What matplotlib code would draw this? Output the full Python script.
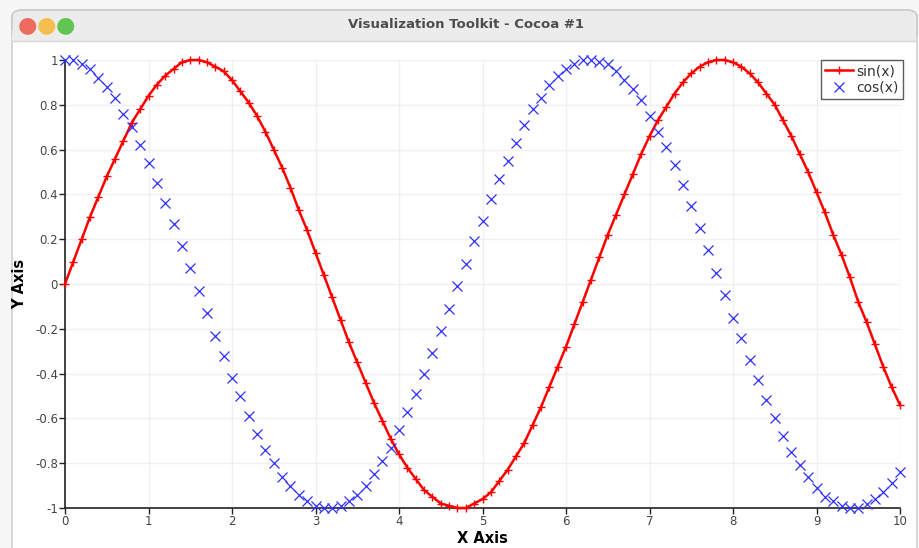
import numpy as np
import matplotlib
matplotlib.use("Agg")
import matplotlib.pyplot as plt
from matplotlib.patches import FancyBboxPatch, Rectangle

# sample grid 0..10 step 0.1
x = np.linspace(0, 10, 101)

sin_y = [0.00, 0.10, 0.20, 0.30, 0.39, 0.48, 0.56, 0.64, 0.72, 0.78,
         0.84, 0.89, 0.93, 0.96, 0.99, 1.00, 1.00, 0.99, 0.97, 0.95,
         0.91, 0.86, 0.81, 0.75, 0.68, 0.60, 0.52, 0.43, 0.33, 0.24,
         0.14, 0.04, -0.06, -0.16, -0.26, -0.35, -0.44, -0.53, -0.61, -0.69,
         -0.76, -0.82, -0.87, -0.92, -0.95, -0.98, -0.99, -1.00, -1.00, -0.98,
         -0.96, -0.93, -0.88, -0.83, -0.77, -0.71, -0.63, -0.55, -0.46, -0.37,
         -0.28, -0.18, -0.08, 0.02, 0.12, 0.22, 0.31, 0.40, 0.49, 0.58,
         0.66, 0.73, 0.79, 0.85, 0.90, 0.94, 0.97, 0.99, 1.00, 1.00,
         0.99, 0.97, 0.94, 0.90, 0.85, 0.80, 0.73, 0.66, 0.58, 0.50,
         0.41, 0.32, 0.22, 0.13, 0.03, -0.08, -0.17, -0.27, -0.37, -0.46,
         -0.54]

cos_y = [1.00, 1.00, 0.98, 0.96, 0.92, 0.88, 0.83, 0.76, 0.70, 0.62,
         0.54, 0.45, 0.36, 0.27, 0.17, 0.07, -0.03, -0.13, -0.23, -0.32,
         -0.42, -0.50, -0.59, -0.67, -0.74, -0.80, -0.86, -0.90, -0.94, -0.97,
         -0.99, -1.00, -1.00, -0.99, -0.97, -0.94, -0.90, -0.85, -0.79, -0.73,
         -0.65, -0.57, -0.49, -0.40, -0.31, -0.21, -0.11, -0.01, 0.09, 0.19,
         0.28, 0.38, 0.47, 0.55, 0.63, 0.71, 0.78, 0.83, 0.89, 0.93,
         0.96, 0.98, 1.00, 1.00, 0.99, 0.98, 0.95, 0.91, 0.87, 0.82,
         0.75, 0.68, 0.61, 0.53, 0.44, 0.35, 0.25, 0.15, 0.05, -0.05,
         -0.15, -0.24, -0.34, -0.43, -0.52, -0.60, -0.68, -0.75, -0.81, -0.86,
         -0.91, -0.95, -0.97, -0.99, -1.00, -1.00, -0.98, -0.96, -0.93, -0.89,
         -0.84]

x_ticks = [0, 1, 2, 3, 4, 5, 6, 7, 8, 9, 10]
y_ticks = [-1, -0.8, -0.6, -0.4, -0.2, 0, 0.2, 0.4, 0.6, 0.8, 1]
y_labels = ["-1", "-0.8", "-0.6", "-0.4", "-0.2", "0", "0.2", "0.4", "0.6", "0.8", "1"]

W, H = 920, 548
fig = plt.figure(figsize=(W / 100, H / 100), dpi=100)
fig.patch.set_facecolor("#f7f7f7")

# window chrome (pixel coords -> figure fraction)
def fx(px):
    return px / W

def fy(py):
    return 1 - py / H

win = FancyBboxPatch((fx(12), fy(560)), fx(905), (560 - 10) / H,
                     boxstyle="round,pad=0,rounding_size=0.012",
                     transform=fig.transFigure, facecolor="white",
                     edgecolor="#c8c8c8", linewidth=1, zorder=0)
fig.patches.append(win)
bar = FancyBboxPatch((fx(12), fy(40)), fx(905), 30 / H,
                     boxstyle="round,pad=0,rounding_size=0.012",
                     transform=fig.transFigure, facecolor="#ececec",
                     edgecolor="#c8c8c8", linewidth=1, zorder=1)
fig.patches.append(bar)
fig.patches.append(Rectangle((fx(12.5), fy(41)), fx(904), 10 / H,
                             transform=fig.transFigure, facecolor="#ececec",
                             edgecolor="none", zorder=2))
fig.lines.append(plt.Line2D([fx(12), fx(917)], [fy(40.5), fy(40.5)],
                            transform=fig.transFigure, color="#d6d6d6", lw=1, zorder=3))
# traffic lights
for cx, col in [(27, "#ec6a5e"), (46, "#f4bf4f"), (65, "#61c554")]:
    fig.text(fx(cx), fy(25), "\u25CF", color=col, fontsize=16, ha="center",
             va="center", zorder=5, family="DejaVu Sans")

fig.text(fx(466), fy(24), "Visualization Toolkit - Cocoa #1", ha="center", va="center",
         fontsize=9.5, fontweight="bold", color="#4d4d4d", zorder=5)

ax = fig.add_axes([fx(65), 40 / H, 835 / W, 448 / H])
ax.set_facecolor("none")
ax.set_zorder(6)

ax.plot(x, sin_y, color="red", lw=1.8, marker="+", ms=6, mew=1,
        label="sin(x)", clip_on=False, zorder=3)
ax.plot(x, cos_y, color="#2f2fff", lw=0, marker="x", ms=6.5, mew=0.9,
        label="cos(x)", clip_on=False, zorder=3)

ax.set_xlim(0, 10)
ax.set_ylim(-1, 1)
ax.set_xticks(x_ticks)
ax.set_xticklabels([str(t) for t in x_ticks])
ax.set_yticks(y_ticks)
ax.set_yticklabels(y_labels)
ax.grid(True, color="#f0f0f0", lw=1)
ax.set_axisbelow(True)
for s in ["top", "right"]:
    ax.spines[s].set_visible(False)
for s in ["left", "bottom"]:
    ax.spines[s].set_color("#222222")
    ax.spines[s].set_linewidth(1.2)
ax.tick_params(colors="#222222", labelcolor="#444444", labelsize=8.5,
               length=4, width=1, pad=1)

ax.set_xlabel("X Axis", fontsize=10.5, fontweight="bold", labelpad=2)
ax.set_ylabel("Y Axis", fontsize=10.5, fontweight="bold", labelpad=6)

leg = ax.legend(loc="upper right", bbox_to_anchor=(1.003, 1.0), fontsize=10,
                frameon=True, fancybox=False, borderpad=0.3, handlelength=2.0,
                handletextpad=0.2, labelspacing=0.2, borderaxespad=0)
leg.get_frame().set_edgecolor("#333333")
leg.get_frame().set_linewidth(1)
for t in leg.get_texts():
    t.set_color("#333333")

fig.savefig("out.png", dpi=100)
